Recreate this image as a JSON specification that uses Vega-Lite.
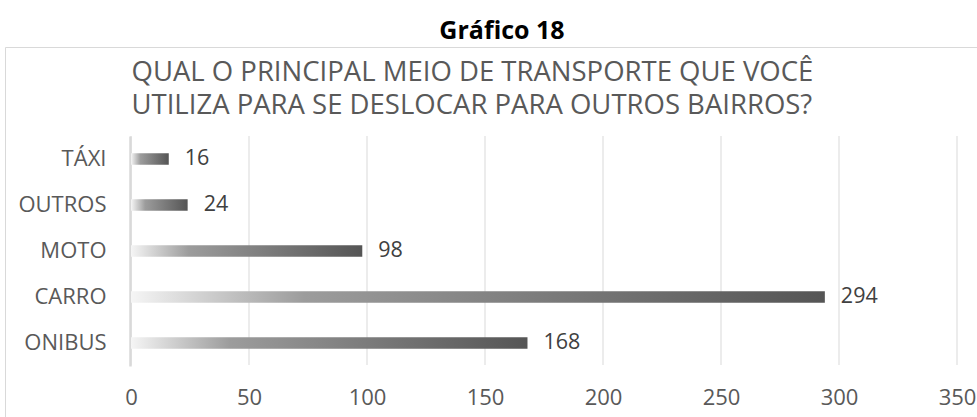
{
  "$schema": "https://vega.github.io/schema/vega-lite/v6.json",
  "autosize": {"type": "none"},
  "padding": {"left": 5, "top": 47, "right": 0, "bottom": 0},
  "width": 972,
  "height": 370,
  "background": "white",
  "config": {
    "view": {"stroke": "#d9d9d9", "strokeWidth": 1},
    "font": "Open Sans"
  },
  "title": {
    "text": "Gráfico 18",
    "anchor": "middle",
    "frame": "group",
    "dx": 11,
    "font": "Open Sans",
    "fontSize": 25,
    "fontWeight": "bold",
    "color": "#000000",
    "offset": 3.5
  },
  "data": {
    "values": [
      {"meio": "TÁXI", "valor": 16},
      {"meio": "OUTROS", "valor": 24},
      {"meio": "MOTO", "valor": 98},
      {"meio": "CARRO", "valor": 294},
      {"meio": "ONIBUS", "valor": 168}
    ]
  },
  "layer": [
    {
      "data": {
        "values": [
          {"g": 0}, {"g": 50}, {"g": 100}, {"g": 150},
          {"g": 200}, {"g": 250}, {"g": 300}, {"g": 350}
        ]
      },
      "mark": {"type": "rule", "color": "#d9d9d9", "strokeWidth": 1},
      "encoding": {
        "x": {
          "field": "g",
          "type": "quantitative",
          "scale": {"domain": [-53.39, 358.47], "nice": false, "zero": false},
          "axis": null
        },
        "y": {
          "datum": 0,
          "type": "quantitative",
          "scale": {"domain": [0, 1], "range": [89, 318], "nice": false, "zero": false},
          "axis": null
        },
        "y2": {"datum": 1}
      }
    },
    {
      "mark": {
        "type": "bar",
        "color": {
          "gradient": "linear",
          "x1": 0, "y1": 0, "x2": 1, "y2": 0,
          "stops": [
            {"offset": 0, "color": "#f5f5f5"},
            {"offset": 0.25, "color": "#9c9c9c"},
            {"offset": 1, "color": "#555555"}
          ]
        }
      },
      "encoding": {
        "y": {
          "field": "meio",
          "type": "nominal",
          "sort": ["TÁXI", "OUTROS", "MOTO", "CARRO", "ONIBUS"],
          "scale": {"range": [89, 319], "paddingInner": 0.75, "paddingOuter": 0.375},
          "axis": {
            "title": null,
            "orient": "left",
            "offset": -125,
            "domain": true,
            "domainColor": "#d9d9d9",
            "domainWidth": 2.5,
            "ticks": false,
            "grid": false,
            "labelFontSize": 22,
            "labelColor": "#595959",
            "labelPadding": 24,
            "labelFont": "Open Sans"
          }
        },
        "x": {
          "field": "valor",
          "type": "quantitative",
          "scale": {"domain": [-53.39, 358.47], "nice": false, "zero": false},
          "axis": {
            "title": null,
            "orient": "bottom",
            "offset": -52,
            "values": [0, 50, 100, 150, 200, 250, 300, 350],
            "grid": false,
            "domain": false,
            "ticks": false,
            "labelFontSize": 22,
            "labelColor": "#595959",
            "labelPadding": 22,
            "labelFont": "Open Sans"
          }
        }
      }
    },
    {
      "mark": {
        "type": "text",
        "align": "left",
        "baseline": "middle",
        "dx": 16,
        "fontSize": 21.5,
        "color": "#404040",
        "font": "Open Sans"
      },
      "encoding": {
        "y": {
          "field": "meio",
          "type": "nominal",
          "sort": ["TÁXI", "OUTROS", "MOTO", "CARRO", "ONIBUS"],
          "scale": {"range": [89, 319], "paddingInner": 0.75, "paddingOuter": 0.375},
          "axis": null
        },
        "x": {
          "field": "valor",
          "type": "quantitative",
          "scale": {"domain": [-53.39, 358.47], "nice": false, "zero": false},
          "axis": {
            "orient": "top",
            "labels": false,
            "ticks": false,
            "domain": false,
            "grid": false,
            "title": ["QUAL O PRINCIPAL MEIO DE TRANSPORTE QUE VOCÊ", "UTILIZA PARA SE DESLOCAR PARA OUTROS BAIRROS?"],
            "titleAnchor": "start",
            "titleAlign": "left",
            "titleBaseline": "top",
            "titleX": 126,
            "titleY": 11,
            "titleFont": "Open Sans",
            "titleFontSize": 27.5,
            "titleFontWeight": "normal",
            "titleColor": "#595959",
            "titleLineHeight": 33.5
          }
        },
        "text": {"field": "valor", "type": "quantitative"}
      }
    }
  ],
  "resolve": {
    "scale": {"y": "independent"},
    "axis": {"x": "independent", "y": "independent"}
  }
}
